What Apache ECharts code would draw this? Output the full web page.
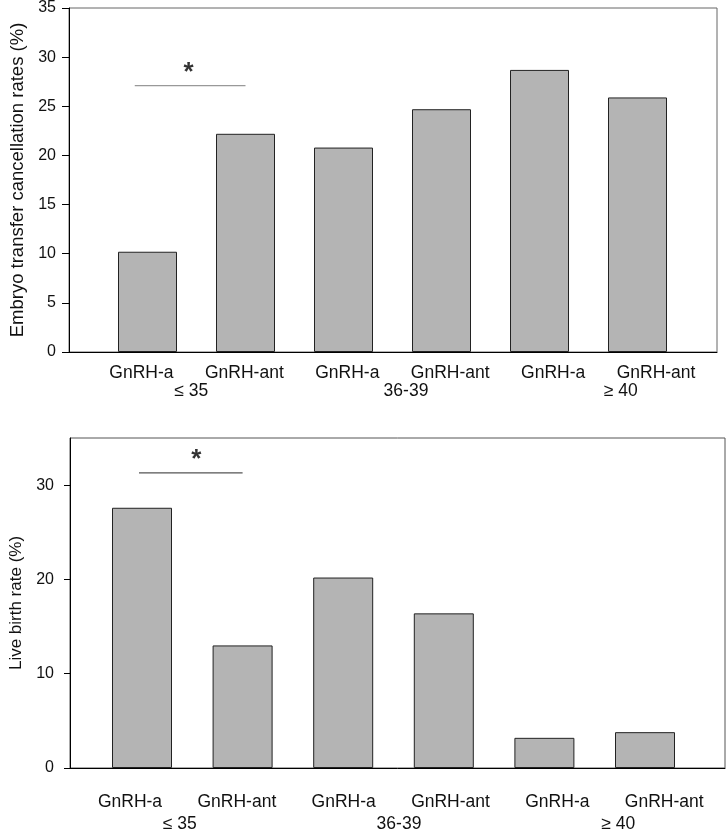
<!DOCTYPE html>
<html>
<head>
<meta charset="utf-8">
<script src="https://cdn.jsdelivr.net/npm/echarts@6/dist/echarts.min.js"></script>
<style>
html,body{margin:0;padding:0;background:#fff;}
#chart{width:728px;height:833px;}
</style>
</head>
<body>
<div id="chart"></div>
<script>
// ---- data ----
const categories = ['GnRH-a', 'GnRH-ant', 'GnRH-a', 'GnRH-ant', 'GnRH-a', 'GnRH-ant'];
const ageGroups = ['≤ 35', '36-39', '≥ 40'];
const cancellationRates = [10.2, 22.2, 20.8, 24.7, 28.7, 25.9];
const liveBirthRates = [27.6, 13.0, 20.2, 16.4, 3.2, 3.8];
const topTitle = 'Embryo transfer cancellation rates (%)';
const bottomTitle = 'Live birth rate (%)';
const topTicks = [0, 5, 10, 15, 20, 25, 30, 35];
const bottomTicks = [0, 10, 20, 30];
// significance bars: [start, end] in bar-index units, level in %
const topSigLine = [[-0.13, 27.1], [1.0, 27.1]];
const topSigStar = [[0.42, 27.1]];
const bottomSigLine = [[-0.03, 31.3], [1.0, 31.3]];
const bottomSigStar = [[0.54, 31.3]];

const FONT = "'Liberation Sans', Arial, sans-serif";
const TXT = '#111';

function outerY(ticks, max, interval, title, titleSize, gap, margin, tickLen) {
  return {
    type: 'value', min: 0, max: max, interval: interval,
    axisLine: {show: true, lineStyle: {color: '#000', width: 1}},
    axisTick: {show: true, length: tickLen, lineStyle: {color: '#000'}, customValues: ticks},
    axisLabel: {fontSize: 16, color: TXT, fontFamily: FONT, margin: margin, customValues: ticks},
    splitLine: {show: false},
    name: title, nameLocation: 'middle', nameRotate: 90, nameGap: gap,
    nameTextStyle: {fontSize: titleSize, color: TXT, fontFamily: FONT}
  };
}
function hiddenY(gi, max) {
  return {type: 'value', gridIndex: gi, min: 0, max: max, show: false};
}

const grids = [
  // top chart
  {left: 69, top: 8, width: 648, height: 344, show: true, borderColor: '#666', borderWidth: 1},
  {left: 98.5, top: 8, width: 588, height: 344},
  {left: 90, top: 8, width: 617.5, height: 344},
  {left: 84, top: 8, width: 647, height: 344},
  // bottom chart
  {left: 62, top: 438, width: 663, height: 330, show: true, borderColor: '#555', borderWidth: 1},
  {left: 91.7, top: 438, width: 603.6, height: 330},
  {left: 76.6, top: 438, width: 641, height: 330},
  {left: 70, top: 438, width: 672, height: 330}
];

function labelAxis(gi, data, margin) {
  return {
    type: 'category', gridIndex: gi, data: data, boundaryGap: true,
    axisLine: {show: false}, axisTick: {show: false}, splitLine: {show: false},
    axisLabel: {fontSize: 17.5, color: TXT, fontFamily: FONT, margin: margin, interval: 0}
  };
}

const xAxes = [
  {type: 'value', gridIndex: 0, min: 0, max: 1, axisLine: {show: true, lineStyle: {color: '#000'}}, axisTick: {show: false}, axisLabel: {show: false}, splitLine: {show: false}},
  {type: 'category', gridIndex: 1, data: categories, show: false, boundaryGap: true},
  labelAxis(2, categories, 12),
  labelAxis(3, ageGroups, 30),
  {type: 'value', gridIndex: 4, min: 0, max: 1, axisLine: {show: true, lineStyle: {color: '#000'}}, axisTick: {show: false}, axisLabel: {show: false}, splitLine: {show: false}},
  {type: 'category', gridIndex: 5, data: categories, show: false, boundaryGap: true},
  labelAxis(6, categories, 25),
  labelAxis(7, ageGroups, 47),
  // value axes matching bar bands for annotations
  {type: 'value', gridIndex: 1, min: -0.5, max: 5.5, show: false},
  {type: 'value', gridIndex: 5, min: -0.5, max: 5.5, show: false}
];

const yAxes = [
  Object.assign({gridIndex: 0}, outerY(topTicks, 35, 5, topTitle, 18.5, 41, 13, 7)),
  hiddenY(1, 35), hiddenY(2, 35), hiddenY(3, 35),
  Object.assign({gridIndex: 4}, outerY(bottomTicks, 35, 10, bottomTitle, 17, 45, 16, 6)),
  hiddenY(5, 35), hiddenY(6, 35), hiddenY(7, 35)
];

const barStyle = {color: '#b4b4b4', borderColor: '#222', borderWidth: 1};

function sigSeries(xi, yi, line, star, color) {
  return [
    {type: 'line', xAxisIndex: xi, yAxisIndex: yi, data: line, symbol: 'none', silent: true,
     lineStyle: {color: color, width: 1.2}, animation: false},
    {type: 'scatter', xAxisIndex: xi, yAxisIndex: yi, data: star, symbolSize: 0, silent: true,
     label: {show: true, formatter: '*', position: 'top', distance: 0, fontSize: 26, fontWeight: 'bold', color: '#000', fontFamily: FONT},
     animation: false}
  ];
}

const option = {
  animation: false,
  backgroundColor: '#fff',
  grid: grids,
  xAxis: xAxes,
  yAxis: yAxes,
  series: [
    {type: 'bar', xAxisIndex: 1, yAxisIndex: 1, data: cancellationRates, barWidth: 59, itemStyle: barStyle},
    {type: 'bar', xAxisIndex: 5, yAxisIndex: 5, data: liveBirthRates, barWidth: 60, itemStyle: barStyle}
  ].concat(sigSeries(8, 1, topSigLine, topSigStar, '#999'))
   .concat(sigSeries(9, 5, bottomSigLine, bottomSigStar, '#555'))
};

const chart = echarts.init(document.getElementById('chart'), null, {renderer: 'canvas'});
chart.setOption(option);
</script>
</body>
</html>
